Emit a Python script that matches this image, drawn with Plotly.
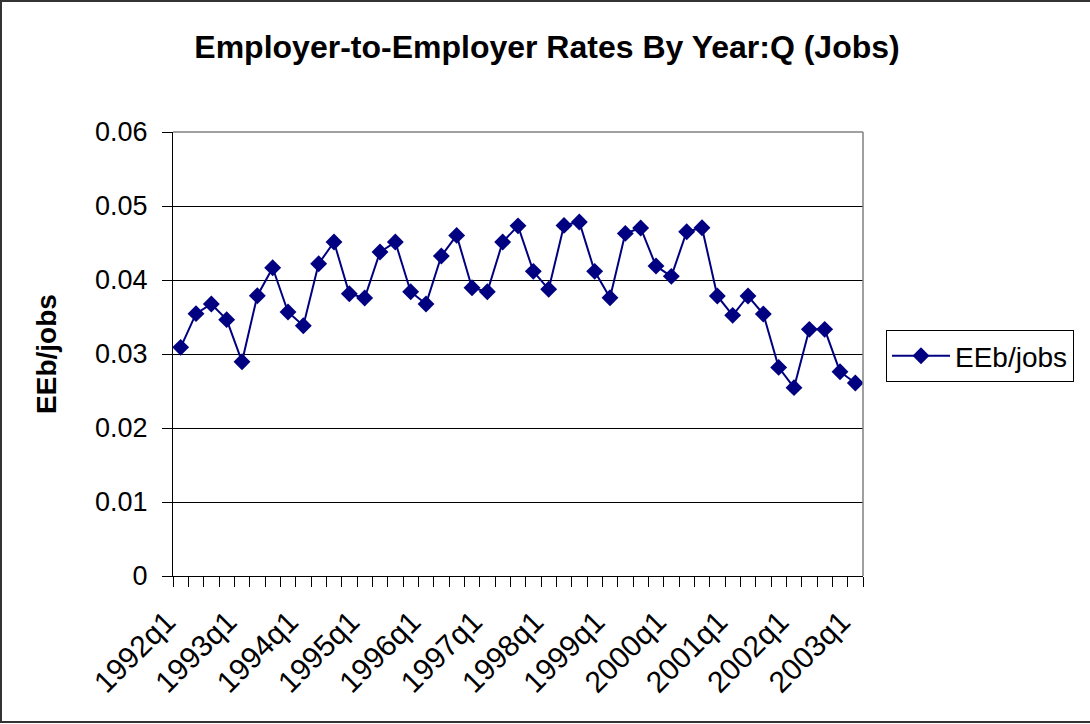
import plotly.graph_objects as go

quarters = [f"{y}q{q}" for y in range(1992, 2003) for q in range(1, 5)] + ["2003q1"]
rates = [0.0309, 0.03545, 0.03676, 0.03464, 0.02896, 0.03788, 0.04166, 0.03567,
         0.03382, 0.0422, 0.04513, 0.03815, 0.03757, 0.04378, 0.04513, 0.03842,
         0.03676, 0.04324, 0.04603, 0.03896, 0.03842, 0.04513, 0.04732, 0.04117,
         0.03874, 0.04738, 0.04784, 0.04117, 0.03761, 0.0463, 0.04703, 0.04189,
         0.04049, 0.04653, 0.04707, 0.03784, 0.03522, 0.03784, 0.0354, 0.02819,
         0.02545, 0.03333, 0.03333, 0.02761, 0.02608]
series_name = "EEb/jobs"
title_text = "Employer-to-Employer Rates By Year:Q (Jobs)"
y_title = "EEb/jobs"

idx = list(range(len(quarters)))
label_idx = idx[::4]
label_text = [quarters[i] for i in label_idx]
boundaries = [i - 0.5 for i in range(len(quarters) + 1)]

FONT = "Liberation Sans, Arial, sans-serif"
W, H = 1090, 724
L, R, T, B = 173, 227, 132, 148
pw, ph = W - L - R, H - T - B

fig = go.Figure()
fig.add_trace(go.Scatter(
    x=idx, y=rates, mode="lines+markers", name=series_name,
    line=dict(color="#000080", width=2),
    marker=dict(symbol="diamond", size=13, color="#000080"),
))

fig.update_layout(
    width=W, height=H,
    margin=dict(l=L, r=R, t=T, b=B),
    paper_bgcolor="white", plot_bgcolor="white",
    font=dict(family=FONT, size=27, color="black"),
    title=dict(text="<b>" + title_text + "</b>", x=547 / W, xanchor="center",
               xref="container", y=1 - 47 / H, yanchor="middle", yref="container",
               font=dict(size=32, family=FONT, color="black")),
    showlegend=True,
    legend=dict(x=(886 - L) / pw, y=(H - B - 330) / ph, xanchor="left", yanchor="top",
                bordercolor="black", borderwidth=1, bgcolor="white",
                font=dict(size=28, family=FONT), itemwidth=58),
    xaxis=dict(range=[-0.5, len(quarters) - 0.5], tickmode="array",
               tickvals=label_idx, ticktext=label_text, ticks="",
               tickangle=-45, showgrid=False, zeroline=False,
               showline=True, linecolor="black", linewidth=1,
               tickfont=dict(size=30, family=FONT),
               ticklabelstandoff=15, ticklabelshift=-14,
               minor=dict(tickmode="array", tickvals=boundaries, ticks="outside",
                          ticklen=10, tickcolor="black", tickwidth=1, showgrid=False)),
    yaxis=dict(range=[0, 0.06], tickmode="array",
               tickvals=[0, 0.01, 0.02, 0.03, 0.04, 0.05, 0.06],
               ticktext=["0", "0.01", "0.02", "0.03", "0.04", "0.05", "0.06"],
               ticks="outside", ticklen=10, tickcolor="black",
               showgrid=True, gridcolor="black", gridwidth=1, zeroline=False,
               showline=True, linecolor="black", linewidth=1,
               tickfont=dict(size=27, family=FONT), ticklabelstandoff=9,
               title=dict(text="<b>" + y_title + "</b>", standoff=30,
                          font=dict(size=28, family=FONT))),
    shapes=[
        dict(type="line", xref="paper", yref="paper", x0=0, x1=1, y0=1, y1=1,
             line=dict(color="#808080", width=1.5), layer="above"),
        dict(type="line", xref="paper", yref="paper", x0=1, x1=1, y0=0, y1=1,
             line=dict(color="#808080", width=1.5), layer="above"),
        dict(type="rect", xref="paper", yref="paper",
             x0=(1 - L) / pw, x1=(W + 5 - L) / pw,
             y0=(H - B - 722) / ph, y1=(H - B - 1) / ph,
             line=dict(color="#333333", width=2), layer="below"),
    ],
)

fig.write_html("out.html", config={"displayModeBar": False},
               post_script="document.body.style.margin='0';document.body.style.overflow='hidden';")
